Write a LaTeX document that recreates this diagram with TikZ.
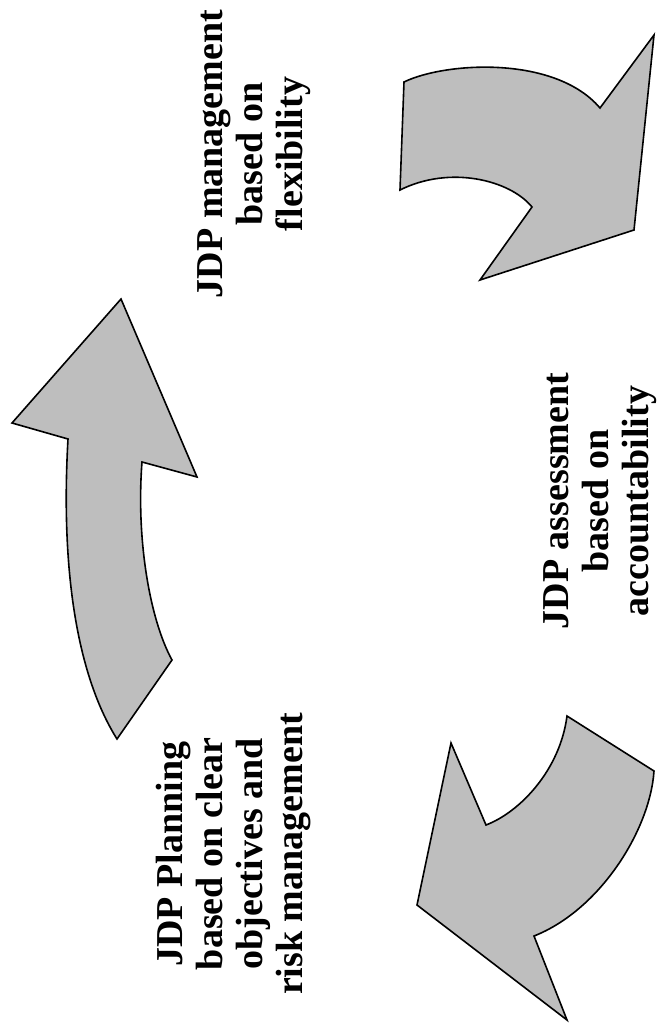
\documentclass[tikz,border=0pt]{standalone}
\usepackage{fontspec}
\setmainfont{Liberation Serif}
\usepackage{xcolor}
\definecolor{arrowgray}{RGB}{190,190,190}

\begin{document}
\begin{tikzpicture}[x=1pt,y=-1pt,
  txt/.style={rotate=90,align=center,inner sep=0pt,
              font=\bfseries\fontsize{38}{40}\selectfont},
  bigarrow/.style={draw=black,line width=1.6pt,fill=arrowgray,line join=miter}]
\useasboundingbox[fill=white] (0,0) rectangle (664,1034);
\draw[bigarrow] (121,299) -- (197,477) -- (142,462)
  .. controls (136,540) and (150,620) .. (172,660) -- (117,739)
  .. controls (80,680) and (60,580) .. (68,439) -- (12,423) -- cycle;
\draw[bigarrow] (404,82) .. controls (445,62) and (555,55) .. (600,108)
  -- (654,35) -- (634,230) -- (480,280) -- (532,207)
  .. controls (510,180) and (450,165) .. (400,190) -- cycle;
\draw[bigarrow] (451,743) -- (486,825) .. controls (520,812) and (560,770) .. (567,716)
  -- (654,771) .. controls (650,830) and (600,910) .. (534,936)
  -- (567,1020) -- (417,905) -- cycle;
\node[txt] (mgmt)   at (254,154) {JDP management\\based on\\flexibility};
\node[txt] (plan)   at (234,854) {JDP Planning\\based on clear\\objectives and\\risk management};
\node[txt] (assess) at (600,501) {JDP assessment\\based on\\accountability};
\end{tikzpicture}
\end{document}
